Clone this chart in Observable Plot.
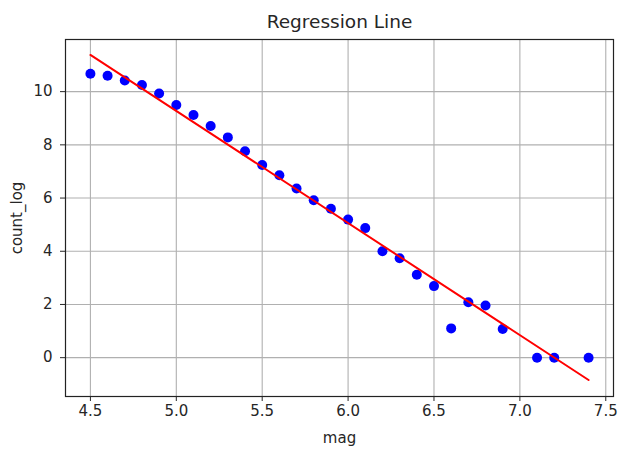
<!DOCTYPE html>
<html>
<head>
<meta charset="utf-8">
<script src="https://cdn.jsdelivr.net/npm/d3@7"></script>
<script src="https://cdn.jsdelivr.net/npm/@observablehq/plot@0.6"></script>
<style>
  html, body { margin: 0; padding: 0; background: #fff; }
  #chart svg { display: block; }
</style>
</head>
<body>
<div id="chart"></div>
<script>
// Scatter data: magnitude vs log(count)
const mag = [4.5, 4.6, 4.7, 4.8, 4.9, 5.0, 5.1, 5.2, 5.3, 5.4, 5.5, 5.6, 5.7, 5.8, 5.9,
             6.0, 6.1, 6.2, 6.3, 6.4, 6.5, 6.6, 6.7, 6.8, 6.9, 7.1, 7.2, 7.4];
const countLog = [10.67, 10.60, 10.42, 10.25, 9.93, 9.50, 9.12, 8.71, 8.28, 7.76, 7.24, 6.86, 6.36, 5.92, 5.60,
                  5.19, 4.87, 4.00, 3.74, 3.12, 2.69, 1.10, 2.08, 1.96, 1.08, 0, 0, 0];

// Regression line endpoints (as drawn)
const lineMag = [4.5, 7.4];
const lineCountLog = [11.38, -0.84];

// Tick labels
const xTicks = [4.5, 5.0, 5.5, 6.0, 6.5, 7.0, 7.5];
const yTicks = [0, 2, 4, 6, 8, 10];

const titleText = ["Regression Line"];

const points = mag.map((m, i) => ({mag: m, count_log: countLog[i]}));
const line = lineMag.map((m, i) => ({mag: m, count_log: lineCountLog[i]}));

const textColor = "#262626";

const chart = Plot.plot({
  width: 619,
  height: 453,
  marginLeft: 65,
  marginRight: 6,
  marginTop: 39,
  marginBottom: 57,
  style: {fontFamily: "DejaVu Sans", fontSize: "15px", color: textColor, background: "#fff"},
  x: {domain: [4.355, 7.545]},
  y: {domain: [-1.46, 11.96]},
  marks: [
    Plot.gridX(xTicks, {stroke: "#b0b0b0", strokeOpacity: 1, strokeWidth: 1.1}),
    Plot.gridY(yTicks, {stroke: "#b0b0b0", strokeOpacity: 1, strokeWidth: 1.1}),
    Plot.axisX(xTicks, {tickFormat: d3.format(".1f"), tickSize: 5, tickPadding: 4, stroke: textColor,
      label: "mag", labelAnchor: "center", labelArrow: "none", labelOffset: 46, fontSize: 15}),
    Plot.axisY(yTicks, {tickSize: 5, tickPadding: 8, stroke: textColor,
      label: "count_log", labelAnchor: "center", labelArrow: "none", labelOffset: 54, fontSize: 15}),
    Plot.dot(points, {x: "mag", y: "count_log", r: 5, fill: "#0000ff", stroke: "none"}),
    Plot.line(line, {x: "mag", y: "count_log", stroke: "#ff0000", strokeWidth: 2}),
    Plot.frame({stroke: "#222", strokeWidth: 1.2}),
    Plot.text(titleText, {frameAnchor: "top", lineAnchor: "middle", dy: -17, fontSize: 18.5, fill: textColor})
  ]
});
document.getElementById("chart").appendChild(chart);
</script>
</body>
</html>
